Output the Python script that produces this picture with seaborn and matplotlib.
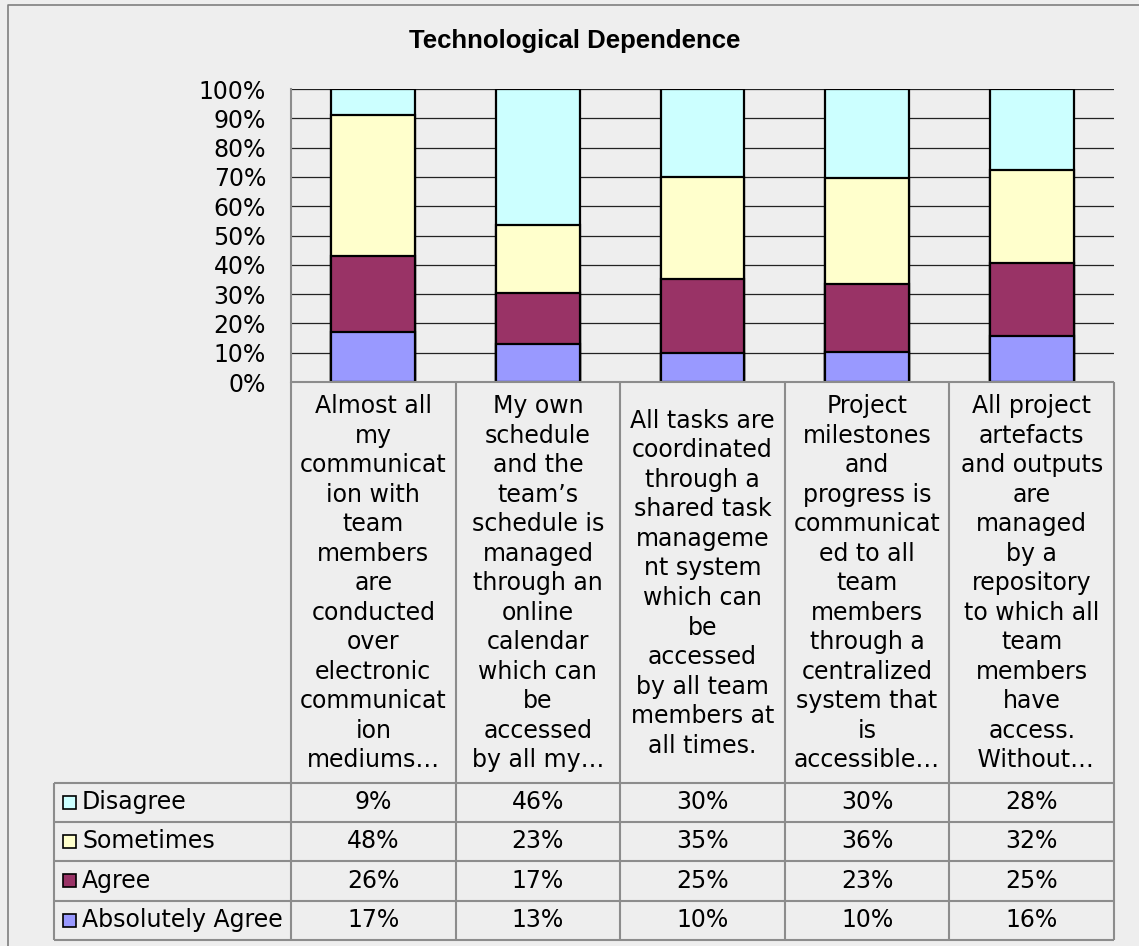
import numpy as np
import pandas as pd
import matplotlib
matplotlib.use("Agg")
import matplotlib.pyplot as plt
from matplotlib.lines import Line2D
from matplotlib.patches import Rectangle
import seaborn as sns

# ---- data -------------------------------------------------------------
title = "Technological Dependence"
categories = [
    "Almost all\nmy\ncommunicat\nion with\nteam\nmembers\nare\nconducted\nover\nelectronic\ncommunicat\nion\nmediums…",
    "My own\nschedule\nand the\nteam’s\nschedule is\nmanaged\nthrough an\nonline\ncalendar\nwhich can\nbe\naccessed\nby all my…",
    "All tasks are\ncoordinated\nthrough a\nshared task\nmanageme\nnt system\nwhich can\nbe\naccessed\nby all team\nmembers at\nall times.",
    "Project\nmilestones\nand\nprogress is\ncommunicat\ned to all\nteam\nmembers\nthrough a\ncentralized\nsystem that\nis\naccessible…",
    "All project\nartefacts\nand outputs\nare\nmanaged\nby a\nrepository\nto which all\nteam\nmembers\nhave\naccess.\n Without…",
]
series_names = ["Disagree", "Sometimes", "Agree", "Absolutely Agree"]
disagree = [9, 46, 30, 30, 28]
sometimes = [48, 23, 35, 36, 32]
agree = [26, 17, 25, 23, 25]
absolutely_agree = [17, 13, 10, 10, 16]
y_ticks = [0, 10, 20, 30, 40, 50, 60, 70, 80, 90, 100]

colors = {
    "Disagree": "#ccffff",
    "Sometimes": "#ffffcc",
    "Agree": "#993366",
    "Absolutely Agree": "#9999ff",
}

# ---- style ------------------------------------------------------------
sns.set_theme(style="white")
plt.rcParams["font.family"] = ["DejaVu Sans"]
BG = "#eeeeee"
GRID = "#8c8c8c"
BODY_SIZE = 17

W, H = 1139, 946
fig = plt.figure(figsize=(W / 100, H / 100), dpi=100, facecolor=BG)

# plot area in pixel coordinates
L, R, T, B = 291, 1114, 89, 382
ax = fig.add_axes([L / W, 1 - B / H, (R - L) / W, (B - T) / H])
ax.set_facecolor(BG)

df = pd.DataFrame({
    "category": categories,
    "Disagree": disagree,
    "Sometimes": sometimes,
    "Agree": agree,
    "Absolutely Agree": absolutely_agree,
})
stack_order = ["Absolutely Agree", "Agree", "Sometimes", "Disagree"]
# 100% stacked: each column is scaled to its own total
shares = df[stack_order].div(df[stack_order].sum(axis=1), axis=0) * 100
cum = shares.cumsum(axis=1)
cum["category"] = categories

# tallest cumulative bar first, each lower segment painted over it
for name in reversed(stack_order):
    sns.barplot(data=cum, x="category", y=name, order=categories,
                color=colors[name], saturation=1, edgecolor="black",
                linewidth=1.6, width=0.51, ax=ax, zorder=2)

ax.set_ylim(0, 100)
ax.set_xlim(-0.5, len(categories) - 0.5)
ax.set_yticks(y_ticks)
ax.set_yticklabels([f"{v}%" for v in y_ticks])
ax.set_xticks([])
ax.set_xlabel("")
ax.set_ylabel("")
ax.tick_params(axis="y", length=0, pad=18, labelsize=BODY_SIZE, colors="black")
ax.yaxis.grid(True, color="#222222", linewidth=0.9)
ax.set_axisbelow(True)
for s in ["top", "right", "bottom"]:
    ax.spines[s].set_visible(False)
ax.spines["left"].set_color(GRID)
ax.spines["left"].set_linewidth(1.5)

# ---- data table beneath the plot -------------------------------------
tab = fig.add_axes([0, 0, 1, 1])
tab.set_xlim(0, W)
tab.set_ylim(H, 0)
tab.axis("off")
tab.patch.set_alpha(0)

n = len(categories)
col_x = L + (R - L) * np.arange(n + 1) / n
LEG_L = 54
row_y = [782.5, 821.7, 861.0, 900.7, 940.0]

line_kw = dict(color=GRID, linewidth=1.5, solid_capstyle="butt")
tab.add_line(Line2D([L, R], [B, B], **line_kw))
for x in col_x:
    tab.add_line(Line2D([x, x], [B, row_y[-1]], **line_kw))
tab.add_line(Line2D([LEG_L, LEG_L], [row_y[0], row_y[-1]], **line_kw))
for y in row_y:
    tab.add_line(Line2D([LEG_L, R], [y, y], **line_kw))

# category headers
for i, cat in enumerate(categories):
    cx = (col_x[i] + col_x[i + 1]) / 2
    tab.text(cx, (B + row_y[0]) / 2 + 1, cat, ha="center", va="center",
             multialignment="center", fontsize=BODY_SIZE, linespacing=1.29,
             color="black")

# value rows with legend keys
values = {
    "Disagree": disagree,
    "Sometimes": sometimes,
    "Agree": agree,
    "Absolutely Agree": absolutely_agree,
}
for r, name in enumerate(series_names):
    yc = (row_y[r] + row_y[r + 1]) / 2
    tab.add_patch(Rectangle((63, yc - 6.5), 13, 13, facecolor=colors[name],
                            edgecolor="black", linewidth=1.2))
    tab.text(82, yc, name, ha="left", va="center", fontsize=BODY_SIZE,
             color="black")
    for i, v in enumerate(values[name]):
        cx = (col_x[i] + col_x[i + 1]) / 2
        tab.text(cx, yc, f"{v}%", ha="center", va="center",
                 fontsize=BODY_SIZE, color="black")

# title and chart frame
tab.text(575, 41, title, ha="center", va="center", fontsize=18.5,
         fontweight="bold", family=["Liberation Sans", "DejaVu Sans"],
         color="black")
tab.add_line(Line2D([8, 8, W + 5], [H + 5, 5, 5], color="#7f7f7f",
                    linewidth=1.2))

fig.savefig("out.png", dpi=100, facecolor=BG)
